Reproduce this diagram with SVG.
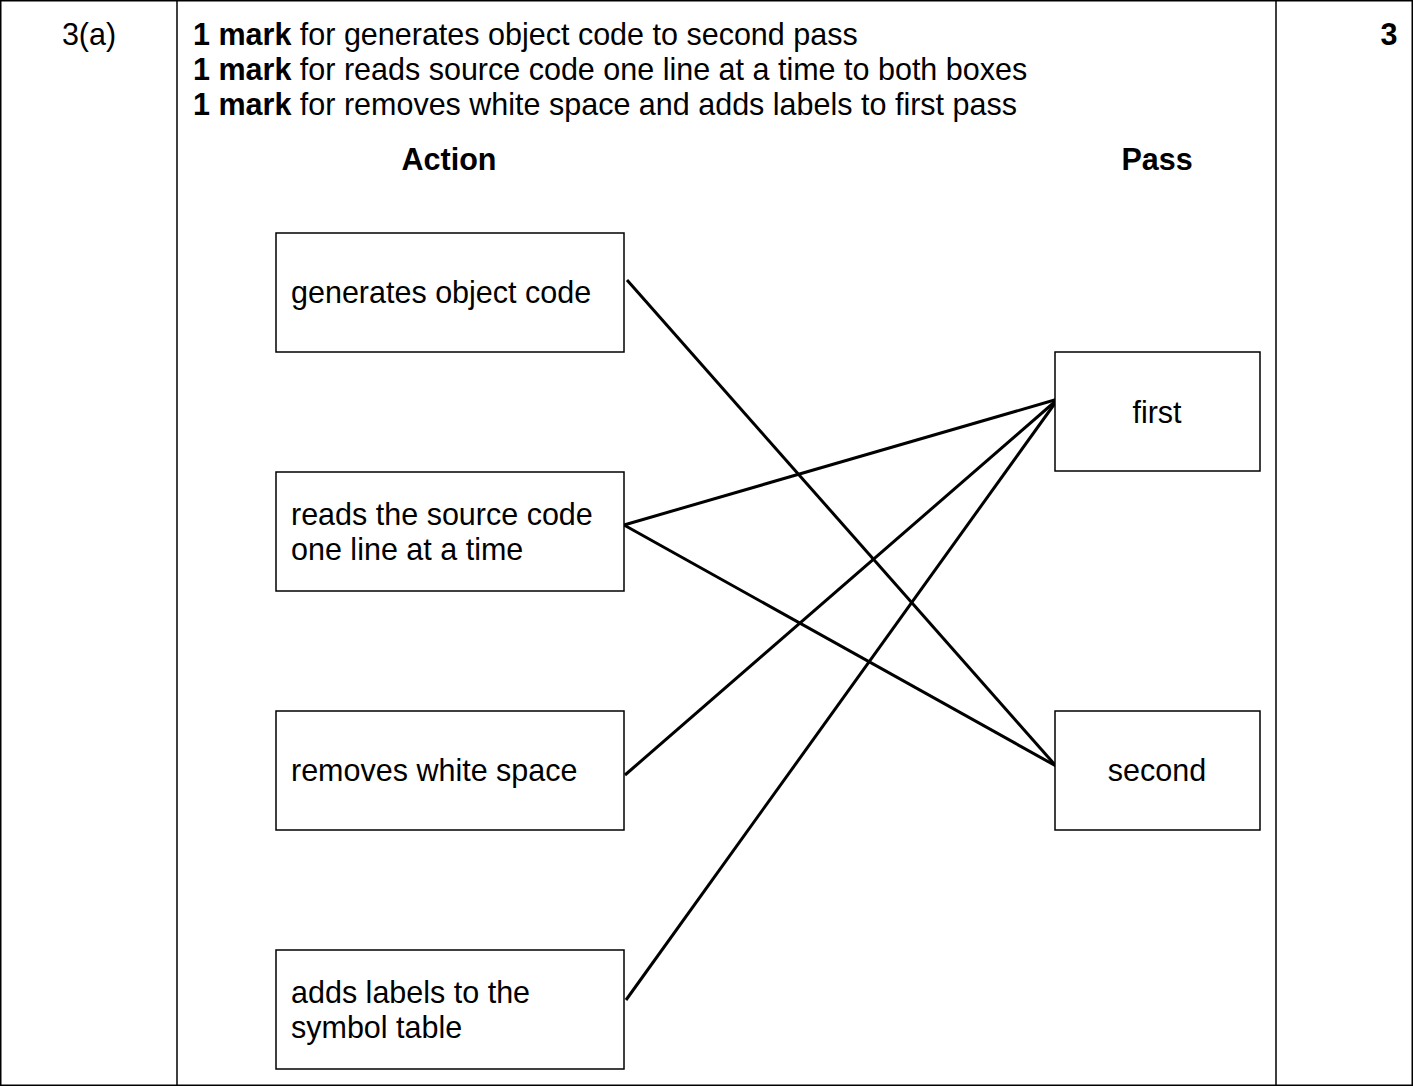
<svg xmlns="http://www.w3.org/2000/svg" width="1413" height="1086" viewBox="0 0 1413 1086">
<style>
text{font-family:"Liberation Sans",Arial,sans-serif;font-size:30.5px;fill:#000}
.b{font-weight:bold}
.box{fill:#fff;stroke:#000;stroke-width:1.5}
.grid{stroke:#000;stroke-width:1.5;fill:none}
.c{stroke:#000;stroke-width:3;fill:none}
</style>
<rect x="0" y="0" width="1413" height="1086" fill="#fff"/>
<g id="table">
<rect class="grid" x="0.75" y="0.75" width="1411.5" height="1084.5"/>
<line class="grid" x1="177" y1="0" x2="177" y2="1086"/>
<line class="grid" x1="1276" y1="0" x2="1276" y2="1086"/>
<text x="89" y="45" text-anchor="middle">3(a)</text>
<text x="1389" y="45" text-anchor="middle" class="b">3</text>
<text x="193" y="45"><tspan class="b">1 mark</tspan> for generates object code to second pass</text>
<text x="193" y="80"><tspan class="b">1 mark</tspan> for reads source code one line at a time to both boxes</text>
<text x="193" y="115"><tspan class="b">1 mark</tspan> for removes white space and adds labels to first pass</text>
<text x="449" y="170" text-anchor="middle" class="b">Action</text>
<text x="1157" y="170" text-anchor="middle" class="b">Pass</text>
</g>
<g id="connectors">
<line class="c" x1="627" y1="280" x2="1056" y2="766"/>
<line class="c" x1="624" y1="525" x2="1058" y2="399"/>
<line class="c" x1="624" y1="525" x2="1056" y2="766"/>
<line class="c" x1="625" y1="775" x2="1058" y2="399"/>
<line class="c" x1="626" y1="1000" x2="1058" y2="399"/>
</g>
<g id="n1"><rect class="box" x="276" y="233" width="348" height="119"/><text x="291" y="303">generates object code</text></g>
<g id="n2"><rect class="box" x="276" y="472" width="348" height="119"/><text x="291" y="525">reads the source code</text><text x="291" y="560">one line at a time</text></g>
<g id="n3"><rect class="box" x="276" y="711" width="348" height="119"/><text x="291" y="781">removes white space</text></g>
<g id="n4"><rect class="box" x="276" y="950" width="348" height="119"/><text x="291" y="1003">adds labels to the</text><text x="291" y="1038">symbol table</text></g>
<g id="first"><rect class="box" x="1055" y="352" width="205" height="119"/><text x="1157" y="423" text-anchor="middle">first</text></g>
<g id="second"><rect class="box" x="1055" y="711" width="205" height="119"/><text x="1157" y="781" text-anchor="middle">second</text></g>
</svg>
